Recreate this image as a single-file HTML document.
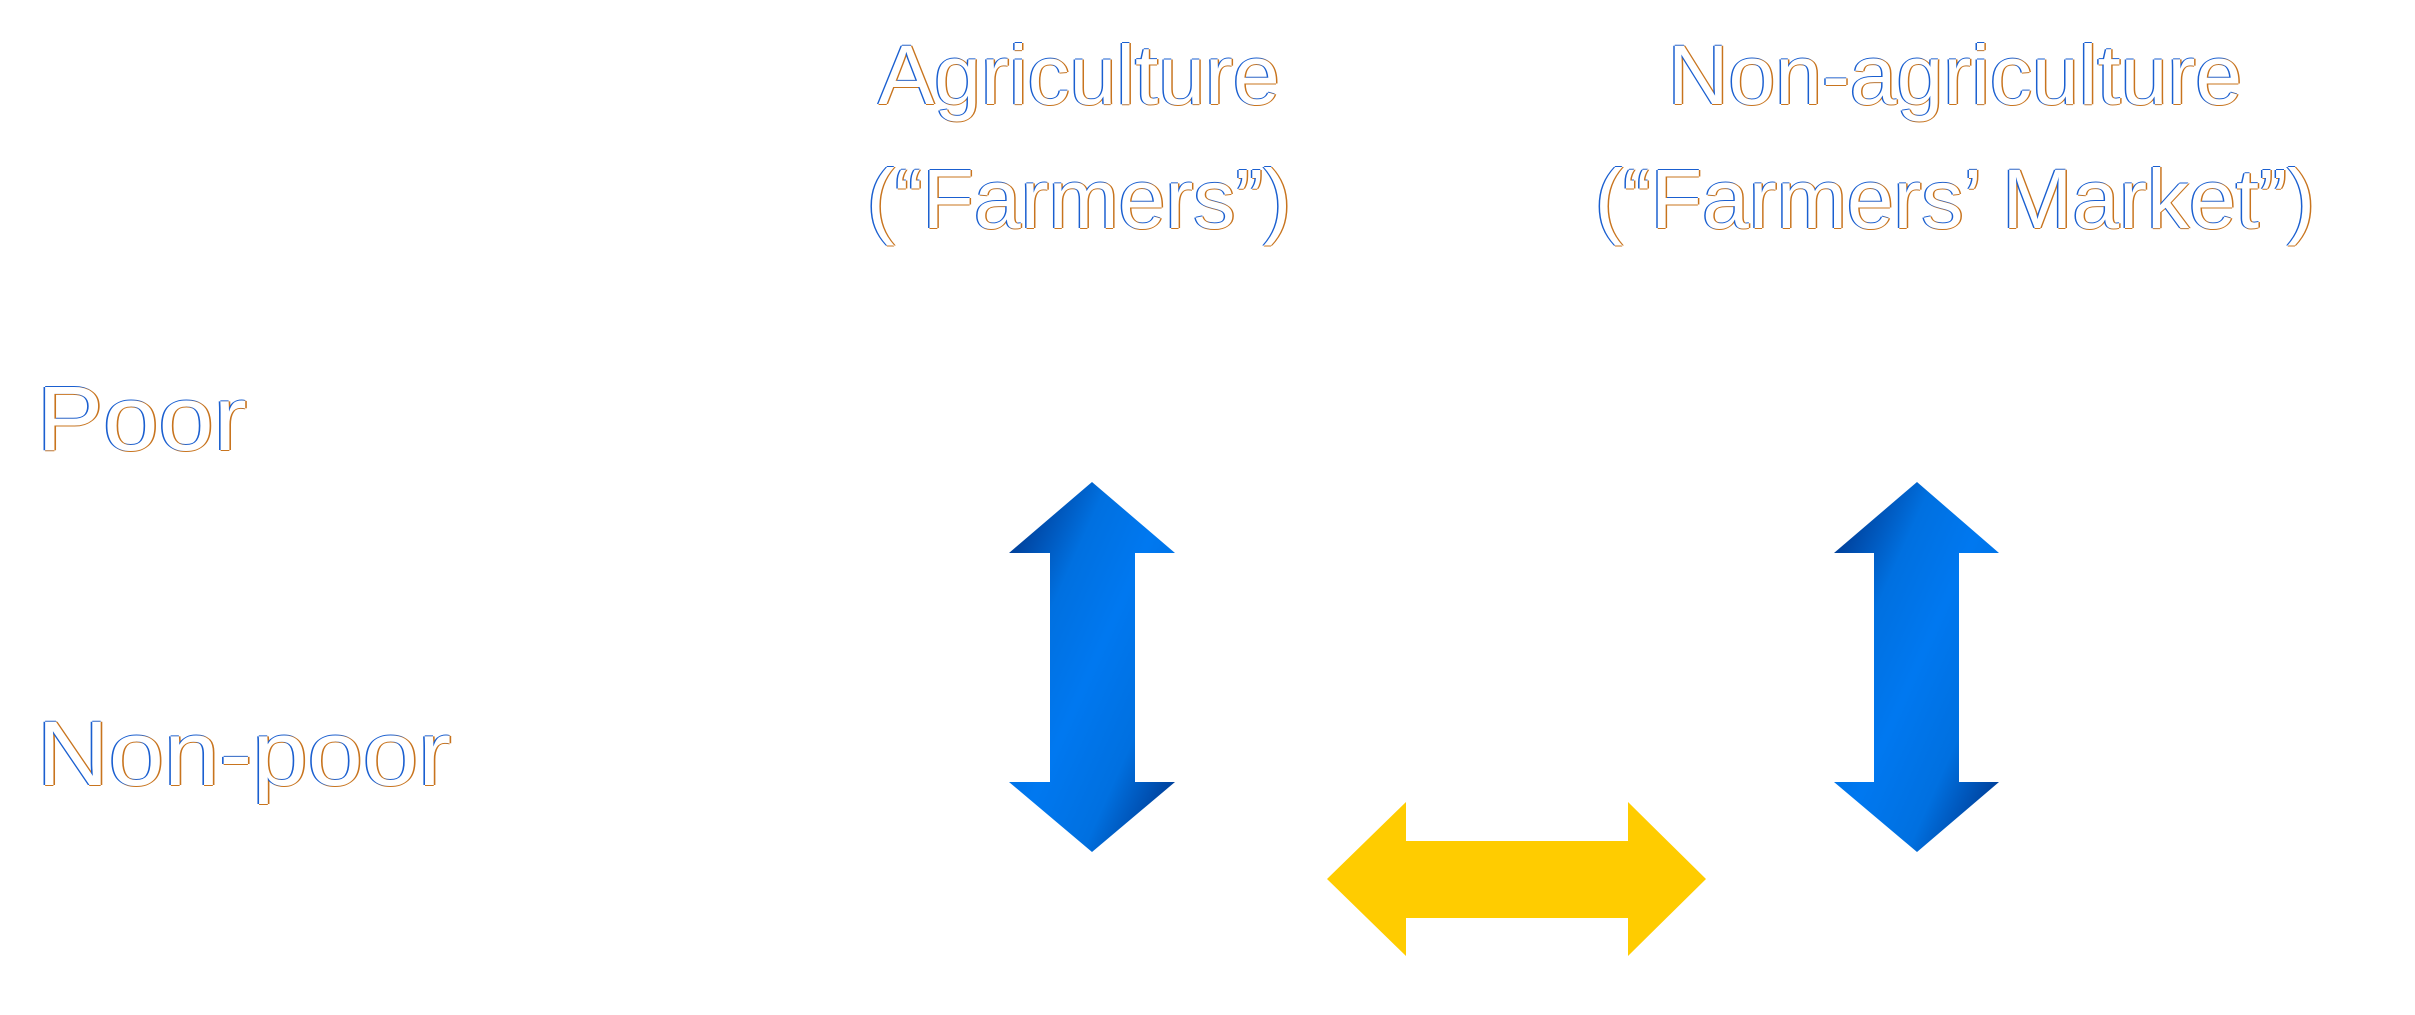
<!DOCTYPE html>
<html><head><meta charset="utf-8"><style>
html,body{margin:0;padding:0;background:#fff;width:2415px;height:1015px;overflow:hidden;position:relative}
.t{position:absolute;font-family:"Liberation Sans",Arial,sans-serif;font-size:84px;color:#fff;white-space:nowrap;line-height:1;
text-shadow:-1.5px 0 #1a5fd0,1.5px 0 #c8741e,0 -1px #1a5fd0,0 1px #c8741e}
</style></head><body>
<div class="t" style="left:1079px;top:33px;transform:translateX(-50%)">Agriculture</div>
<div class="t" style="left:1079px;top:157px;transform:translateX(-50%)">(“Farmers”)</div>
<div class="t" style="left:1955px;top:33px;transform:translateX(-50%)">Non-agriculture</div>
<div class="t" style="left:1955px;top:157px;transform:translateX(-50%)">(“Farmers’ Market”)</div>
<div class="t" style="left:37px;top:373px;font-size:92px;transform:scaleX(1.08);transform-origin:left">Poor</div>
<div class="t" style="left:37px;top:708px;font-size:92px;transform:scaleX(1.08);transform-origin:left">Non-poor</div>
<svg width="2415" height="1015" style="position:absolute;left:0;top:0">
<defs>
<linearGradient id="g" x1="0" y1="0" x2="1" y2="1" gradientUnits="objectBoundingBox">
<stop offset="0" stop-color="#002a7a"/><stop offset="0.3" stop-color="#0070e0"/><stop offset="0.5" stop-color="#0078f0"/><stop offset="0.72" stop-color="#0070e0"/><stop offset="1" stop-color="#002a7a"/>
</linearGradient>
</defs>
<polygon fill="url(#g)" points="1092,482 1175,553 1135,553 1135,782 1175,782 1092,852 1009,782 1050,782 1050,553 1009,553"/>
<polygon fill="url(#g)" points="1917,482 1999,553 1959,553 1959,782 1999,782 1917,852 1834,782 1874,782 1874,553 1834,553"/>
<polygon fill="#ffcc00" points="1327,879 1406,802 1406,841 1628,841 1628,802 1706,879 1628,956 1628,918 1406,918 1406,956"/>
</svg>
</body></html>
